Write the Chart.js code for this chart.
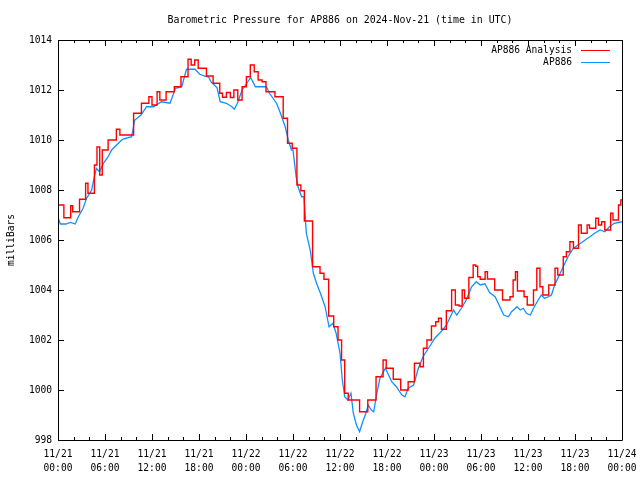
<!DOCTYPE html>
<html>
<head>
<meta charset="utf-8">
<script src="https://cdn.jsdelivr.net/npm/chart.js@4.4.1/dist/chart.umd.min.js"></script>
<style>
  html, body { margin: 0; padding: 0; background: #fff; }
  #wrap { width: 640px; height: 480px; }
</style>
</head>
<body>
<div id="wrap"><canvas id="graphCanvas" width="640" height="480"></canvas></div>
<script>
// Times are hours since 2024-11-21 00:00 UTC

// AP886 Analysis (red)
const analysisHours = [
    0, 0.5, 1, 1.5, 1.75, 2, 2.5, 3, 3.4, 3.65,
    4, 4.5, 4.8, 5.15, 5.5, 5.8, 6.2, 6.6, 7.2, 7.7,
    8.1, 9, 9.5, 9.8, 10.4, 10.9, 11.4, 11.8, 12.2, 12.5,
    12.8, 13.2, 13.6, 14, 14.6, 15.1, 15.5, 15.9, 16.4, 16.8,
    17.2, 17.7, 18.1, 18.7, 19.2, 19.6, 20, 20.5, 20.8, 21.2,
    21.8, 22.2, 22.7, 23.2, 23.8, 24.3, 24.8, 25.3, 25.8, 26.3,
    26.8, 27.4, 28, 28.5, 29, 29.6, 30.2, 30.8, 31.2, 31.7,
    32.3, 32.7, 33.2, 33.7, 34.2, 34.9, 35.5, 36, 36.4, 36.8,
    37.3, 38.2, 38.8, 39.3, 39.8, 40.4, 40.8, 41.3, 41.7, 42.1,
    42.6, 43, 43.5, 44, 44.5, 44.9, 45.3, 45.7, 46, 46.45,
    46.85, 47.35, 48, 48.45, 48.7, 49.2, 49.95, 50.55, 50.9, 51.5,
    51.7, 52.1, 52.8, 53.2, 53.45, 53.7, 54.1, 54.4, 54.65, 55,
    55.5, 56, 56.5, 57, 57.5, 57.9, 58.3, 58.5, 58.8, 59.3,
    59.7, 60.1, 60.5, 60.9, 61.35, 61.7, 62.1, 62.5, 62.8, 63.3,
    63.6, 64, 64.3, 64.7, 65.1, 65.6, 66, 66.3, 66.6, 67,
    67.4, 67.7, 68, 68.5, 68.8, 69.2, 69.6, 70, 70.4, 70.7,
    71, 71.4, 71.7, 72
];
const analysis = [
    1007.4, 1007.4, 1006.89, 1006.89, 1007.37, 1007.13, 1007.13, 1007.63, 1007.63, 1008.27,
    1007.87, 1007.87, 1009.0, 1009.72, 1008.6, 1009.6, 1009.6, 1010.0, 1010.0, 1010.43,
    1010.2, 1010.2, 1010.2, 1011.07, 1011.07, 1011.47, 1011.47, 1011.73, 1011.4, 1011.4,
    1011.93, 1011.6, 1011.6, 1011.93, 1011.93, 1012.13, 1012.13, 1012.53, 1012.53, 1013.23,
    1013.0, 1013.2, 1012.87, 1012.87, 1012.56, 1012.56, 1012.27, 1012.27, 1011.87, 1011.71,
    1011.9, 1011.7, 1012.0, 1011.6, 1012.13, 1012.53, 1013.0, 1012.73, 1012.4, 1012.33,
    1011.93, 1011.93, 1011.73, 1011.73, 1010.87, 1009.87, 1009.67, 1008.2, 1007.97, 1006.76,
    1006.76, 1004.93, 1004.93, 1004.67, 1004.43, 1002.96, 1002.53, 1002.0, 1001.2, 999.87,
    999.6, 999.6, 999.13, 999.13, 999.6, 999.6, 1000.53, 1000.53, 1001.2, 1000.87,
    1000.87, 1000.43, 1000.43, 1000.0, 1000.0, 1000.33, 1000.33, 1001.07, 1001.07, 1000.93,
    1001.67, 1002.0, 1002.56, 1002.73, 1002.87, 1002.43, 1003.17, 1004.0, 1003.4, 1003.36,
    1004.0, 1003.67, 1004.5, 1005.0, 1004.95, 1004.53, 1004.43, 1004.43, 1004.73, 1004.44,
    1004.44, 1004.0, 1004.0, 1003.6, 1003.6, 1003.73, 1004.4, 1004.73, 1003.96, 1003.96,
    1003.73, 1003.4, 1003.4, 1004.0, 1004.87, 1004.13, 1003.8, 1003.8, 1004.2, 1004.2,
    1004.87, 1004.6, 1004.6, 1005.33, 1005.53, 1005.93, 1005.67, 1005.67, 1006.6, 1006.27,
    1006.27, 1006.6, 1006.47, 1006.47, 1006.87, 1006.6, 1006.73, 1006.4, 1006.4, 1007.07,
    1006.8, 1006.8, 1007.4, 1007.6
];

// AP886 observed (blue)
const observedHours = [
    0, 0.3, 1, 1.6, 2.2, 2.6, 3.2, 3.65, 4.3, 4.6,
    4.9, 5.3, 5.8, 6.4, 6.85, 7.9, 8.3, 9.4, 9.8, 10.6,
    11.3, 12.2, 13.2, 14.3, 15, 15.8, 16.4, 17.5, 18.1, 18.8,
    19.2, 19.6, 20.3, 20.7, 21.5, 22.2, 22.5, 22.9, 23.5, 24.1,
    24.6, 25.2, 26.6, 27, 27.9, 28.4, 29, 29.4, 29.8, 30,
    30.4, 30.7, 31.1, 31.4, 31.7, 32.2, 32.6, 33, 33.5, 34.1,
    34.6, 35.1, 35.5, 36, 36.3, 36.6, 37, 37.4, 37.7, 38.1,
    38.5, 38.9, 39.3, 39.6, 40, 40.3, 40.7, 41.1, 41.8, 42.2,
    42.6, 43.2, 43.9, 44.3, 44.7, 45.4, 46, 46.6, 47.3, 48.1,
    48.9, 49.6, 50.3, 50.5, 50.9, 51.5, 52.1, 52.8, 53.4, 53.9,
    54.5, 55.1, 55.8, 56.2, 56.9, 57.5, 57.9, 58.6, 59, 59.4,
    59.8, 60.3, 60.7, 61.3, 61.7, 62.1, 62.6, 63, 63.4, 63.9,
    64.5, 65.1, 65.8, 66.4, 67.3, 67.9, 68.5, 69.2, 69.8, 70.4,
    71, 72
];
const observed = [
    1006.9, 1006.64, 1006.64, 1006.7, 1006.64, 1006.93, 1007.27, 1007.67, 1008.0, 1008.47,
    1008.87, 1008.73, 1009.07, 1009.33, 1009.6, 1009.93, 1010.04, 1010.13, 1010.8, 1011.0,
    1011.33, 1011.33, 1011.53, 1011.47, 1012.07, 1012.13, 1012.83, 1012.83, 1012.63, 1012.55,
    1012.53, 1012.3, 1012.1, 1011.53, 1011.47, 1011.33, 1011.23, 1011.47, 1012.0, 1012.27,
    1012.5, 1012.13, 1012.13, 1011.87, 1011.47, 1011.07, 1010.53, 1010.0, 1009.6, 1009.6,
    1008.53, 1008.07, 1007.73, 1007.73, 1006.27, 1005.6, 1004.67, 1004.27, 1003.87, 1003.33,
    1002.53, 1002.67, 1002.27, 1001.47, 1000.4, 999.73, 999.6, 999.87, 999.07, 998.6,
    998.33, 998.73, 999.07, 999.4, 999.2, 999.13, 999.87, 1000.47, 1000.87, 1000.6,
    1000.33, 1000.13, 999.8, 999.73, 1000.07, 1000.2, 1000.87, 1001.33, 1001.67, 1002.07,
    1002.33, 1002.6, 1003.07, 1003.2, 1003.0, 1003.27, 1003.6, 1004.13, 1004.33, 1004.2,
    1004.25, 1003.9, 1003.73, 1003.47, 1003.0, 1002.93, 1003.13, 1003.33, 1003.2, 1003.27,
    1003.07, 1003.0, 1003.27, 1003.6, 1003.8, 1003.67, 1003.73, 1003.8, 1004.2, 1004.53,
    1004.93, 1005.33, 1005.67, 1005.8, 1006.0, 1006.13, 1006.27, 1006.4, 1006.33, 1006.53,
    1006.67, 1006.73
];

// Tick labels every 6 hours
const tickDates = ['11/21', '11/21', '11/21', '11/21', '11/22', '11/22', '11/22', '11/22', '11/23', '11/23', '11/23', '11/23', '11/24'];
const tickTimes = ['00:00', '06:00', '12:00', '18:00', '00:00', '06:00', '12:00', '18:00', '00:00', '06:00', '12:00', '18:00', '00:00'];

const FONT = "'DejaVu Sans Mono', monospace";
const RED = '#ff0000';
const BLUE = '#1090ff';

// Frame, inward ticks, title and legend in gnuplot style
const gnuplotFrame = {
    id: 'gnuplotFrame',
    afterDraw(chart) {
        const c = chart.ctx;
        const a = chart.chartArea;
        const xs = chart.scales.x;
        const ys = chart.scales.y;
        c.save();
        c.strokeStyle = '#000';
        c.lineWidth = 1;
        c.beginPath();
        c.rect(Math.round(a.left) + 0.5, Math.round(a.top) + 0.5, Math.round(a.right - a.left), Math.round(a.bottom - a.top));
        // x ticks: major every 6 h, minor every 2 h
        for (let h = 0; h <= 72; h += 2) {
            const px = Math.round(xs.getPixelForValue(h)) + 0.5;
            const len = h % 6 === 0 ? 6 : 3;
            c.moveTo(px, a.bottom); c.lineTo(px, a.bottom - len);
            c.moveTo(px, a.top); c.lineTo(px, a.top + len);
        }
        // y ticks every 2 mbar
        for (let v = 998; v <= 1014; v += 2) {
            const py = Math.round(ys.getPixelForValue(v)) + 0.5;
            c.moveTo(a.left, py); c.lineTo(a.left + 6, py);
            c.moveTo(a.right, py); c.lineTo(a.right - 6, py);
        }
        c.stroke();

        c.fillStyle = '#000';
        c.font = '9.9px ' + FONT;
        c.textBaseline = 'middle';
        c.textAlign = 'center';
        c.fillText('Barometric Pressure for AP886 on 2024-Nov-21 (time in UTC)', (a.left + a.right) / 2, 20);

        // legend
        c.font = '9.6px ' + FONT;
        const entries = [['AP886 Analysis', RED], ['AP886', BLUE]];
        entries.forEach((e, i) => {
            const y = 50 + i * 12;
            c.textAlign = 'right';
            c.fillStyle = '#000';
            c.fillText(e[0], 572, y);
            c.strokeStyle = e[1];
            c.lineWidth = 1;
            c.beginPath();
            c.moveTo(581, y + 0.5); c.lineTo(610, y + 0.5);
            c.stroke();
        });
        c.restore();
    }
};

new Chart(document.getElementById('graphCanvas').getContext('2d'), {
    type: 'line',
    data: {
        datasets: [
            {
                label: 'AP886 Analysis',
                data: analysisHours.map((h, i) => ({ x: h, y: analysis[i] })),
                borderColor: RED,
                borderWidth: 1.4,
                pointRadius: 0,
                stepped: 'middle',
                fill: false
            },
            {
                label: 'AP886',
                data: observedHours.map((h, i) => ({ x: h, y: observed[i] })),
                borderColor: BLUE,
                borderWidth: 1.3,
                pointRadius: 0,
                tension: 0,
                fill: false
            }
        ]
    },
    options: {
        responsive: false,
        animation: false,
        devicePixelRatio: 1,
        layout: { padding: { top: 40, right: 18, left: 0, bottom: 0 } },
        plugins: {
            legend: { display: false },
            title: { display: false },
            tooltip: { enabled: false }
        },
        scales: {
            x: {
                type: 'linear',
                min: 0,
                max: 72,
                grid: { display: false, drawTicks: false },
                border: { display: false },
                afterFit(scale) {
                    scale.height = 40;
                    scale.paddingLeft = 0;
                    scale.paddingRight = 0;
                },
                ticks: {
                    stepSize: 6,
                    autoSkip: false,
                    maxRotation: 0,
                    padding: 8,
                    color: '#000',
                    font: { family: FONT, size: 9.6, lineHeight: 1.4 },
                    callback: (v) => {
                        const i = Math.round(v / 6);
                        return [tickDates[i], tickTimes[i]];
                    }
                }
            },
            y: {
                min: 998,
                max: 1014,
                grid: { display: false, drawTicks: false },
                border: { display: false },
                afterFit(scale) { scale.width = 58; },
                title: {
                    display: true,
                    text: 'milliBars',
                    color: '#000',
                    font: { family: FONT, size: 9.6 },
                    padding: { top: 6, bottom: 0 }
                },
                ticks: {
                    stepSize: 2,
                    padding: 6,
                    color: '#000',
                    font: { family: FONT, size: 9.6 },
                    callback: (v) => String(v)
                }
            }
        }
    },
    plugins: [gnuplotFrame]
});
</script>
</body>
</html>
